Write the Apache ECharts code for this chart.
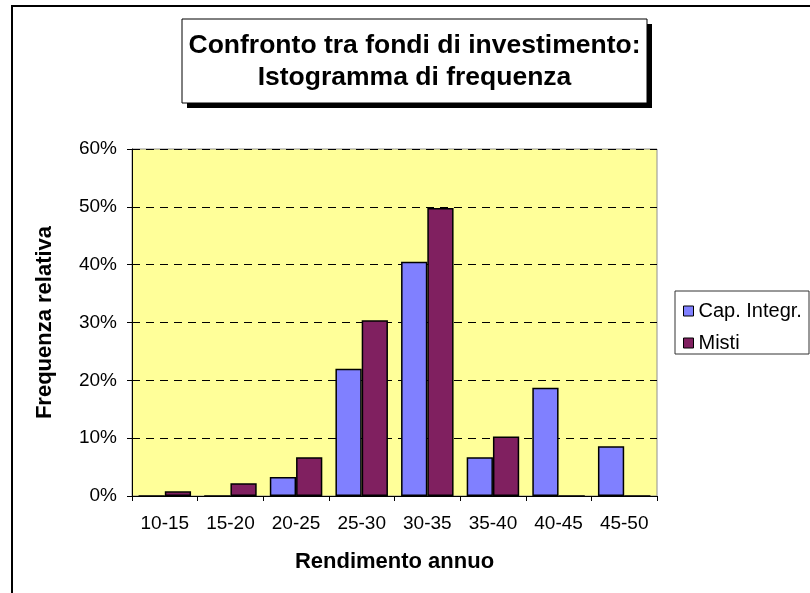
<!DOCTYPE html>
<html>
<head>
<meta charset="utf-8">
<script src="https://cdn.jsdelivr.net/npm/echarts@6/dist/echarts.min.js"></script>
<style>
  html, body { margin: 0; padding: 0; background: #ffffff; }
  #chart { width: 810px; height: 593px; }
</style>
</head>
<body>
<div id="chart"></div>
<script>
// Return classes (annual yield, %)
const categories = ['10-15', '15-20', '20-25', '25-30', '30-35', '35-40', '40-45', '45-50'];
// Relative frequency (%) per fund type
const capIntegr = [0, 0, 3.3, 22.0, 40.5, 6.7, 18.7, 8.6];
const misti = [0.8, 2.2, 6.7, 30.4, 49.8, 10.3, 0, 0];
const seriesNames = ['Cap. Integr.', 'Misti'];
const titleLines = ['Confronto tra fondi di investimento:', 'Istogramma di frequenza'];

const FONT = '"Liberation Sans", Arial, sans-serif';

const chart = echarts.init(document.getElementById('chart'), null, { renderer: 'canvas' });

chart.setOption({
  animation: false,
  backgroundColor: '#ffffff',
  textStyle: { fontFamily: FONT, color: '#000' },
  grid: {
    left: 132, top: 149, width: 525, height: 347,
    show: true, backgroundColor: '#FFFF99', borderColor: '#909090', borderWidth: 1
  },
  legend: {
    orient: 'vertical',
    left: 683, top: 301,
    padding: 0,
    z: 20,
    itemWidth: 10, itemHeight: 10, itemGap: 12,
    icon: 'rect',
    itemStyle: { borderColor: '#000', borderWidth: 1 },
    textStyle: { fontFamily: FONT, fontSize: 20, lineHeight: 20, color: '#000' },
    data: seriesNames
  },
  xAxis: {
    type: 'category',
    data: categories,
    name: 'Rendimento annuo',
    nameLocation: 'middle',
    nameGap: 55,
    nameTextStyle: { fontFamily: FONT, fontSize: 22, fontWeight: 'bold', color: '#000' },
    axisLine: { lineStyle: { color: '#000', width: 1 } },
    axisTick: { show: true, length: 5, lineStyle: { color: '#000' } },
    axisLabel: { fontFamily: FONT, fontSize: 19, color: '#000', margin: 18 }
  },
  yAxis: {
    type: 'value',
    min: 0, max: 60, interval: 10,
    name: 'Frequenza relativa',
    nameLocation: 'middle',
    nameGap: 76,
    nameRotate: 90,
    nameTextStyle: { fontFamily: FONT, fontSize: 22, fontWeight: 'bold', color: '#000' },
    axisLine: { show: true, lineStyle: { color: '#000', width: 1 } },
    axisTick: { show: true, length: 5, lineStyle: { color: '#000' } },
    axisLabel: { fontFamily: FONT, fontSize: 19, color: '#000', margin: 15, formatter: '{value}%' },
    splitLine: { show: true, lineStyle: { color: '#000', width: 1, type: [8, 6] } }
  },
  series: [
    {
      name: seriesNames[0],
      type: 'bar',
      data: capIntegr,
      barGap: '0%',
      barCategoryGap: '20%',
      itemStyle: { color: '#8080FF', borderColor: '#000', borderWidth: 1.5 }
    },
    {
      name: seriesNames[1],
      type: 'bar',
      data: misti,
      barGap: '0%',
      barCategoryGap: '20%',
      itemStyle: { color: '#802060', borderColor: '#000', borderWidth: 1.5 }
    }
  ],
  graphic: [
    // chart area frame
    { type: 'rect', silent: true, z: -10,
      shape: { x: 12, y: 6, width: 830, height: 620 },
      style: { fill: null, stroke: '#000', lineWidth: 2 } },
    // title box with drop shadow
    { type: 'rect', silent: true, z: 10,
      shape: { x: 187, y: 24, width: 465, height: 84 },
      style: { fill: '#000' } },
    { type: 'rect', silent: true, z: 11,
      shape: { x: 182, y: 19, width: 465, height: 84 },
      style: { fill: '#fff', stroke: '#000', lineWidth: 1 } },
    { type: 'text', silent: true, z: 12,
      x: 414.5, y: 46,
      style: { text: titleLines[0], font: 'bold 26.5px ' + FONT, fill: '#000', textAlign: 'center', textVerticalAlign: 'middle' } },
    { type: 'text', silent: true, z: 12,
      x: 414.5, y: 78,
      style: { text: titleLines[1], font: 'bold 26.5px ' + FONT, fill: '#000', textAlign: 'center', textVerticalAlign: 'middle' } },
    // legend frame
    { type: 'rect', silent: true, z: 1,
      shape: { x: 675, y: 291, width: 134, height: 63 },
      style: { fill: '#fff', stroke: '#333', lineWidth: 1 } }
  ]
});
</script>
</body>
</html>
